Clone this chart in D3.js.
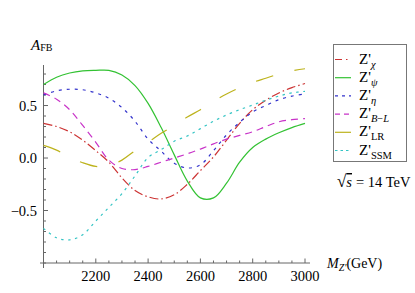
<!DOCTYPE html>
<html>
<head>
<meta charset="utf-8">
<script src="https://cdn.jsdelivr.net/npm/d3@7"></script>
<style>
  body { margin: 0; background: #fff; }
  svg { display: block; }
  text { font-family: "Liberation Serif", "Times New Roman", "DejaVu Serif", serif; }
</style>
</head>
<body>
<script>
// Z' forward-backward asymmetry vs mass, sqrt(s) = 14 TeV
var mass = [2000, 2050, 2100, 2150, 2200, 2250, 2300, 2350, 2400, 2450, 2500,
            2550, 2600, 2650, 2700, 2750, 2800, 2850, 2900, 2950, 3000];

var chi = [0.33, 0.30, 0.25, 0.17, 0.07, -0.04, -0.19, -0.31, -0.37, -0.39, -0.35,
           -0.25, -0.12, 0.01, 0.17, 0.33, 0.46, 0.55, 0.62, 0.67, 0.71];
var psi = [0.70, 0.77, 0.81, 0.83, 0.835, 0.835, 0.79, 0.69, 0.52, 0.29, 0.03,
           -0.22, -0.38, -0.38, -0.24, -0.04, 0.10, 0.18, 0.24, 0.29, 0.33];
var eta = [0.60, 0.64, 0.655, 0.65, 0.62, 0.57, 0.48, 0.35, 0.18, 0.065, -0.05,
           -0.095, -0.065, 0.07, 0.22, 0.34, 0.44, 0.50, 0.555, 0.59, 0.61];
var bl  = [0.62, 0.56, 0.46, 0.31, 0.15, -0.02, -0.10, -0.11, -0.08, -0.04, 0.0,
           0.04, 0.085, 0.135, 0.18, 0.215, 0.25, 0.30, 0.345, 0.365, 0.375];
var lr  = [0.12, 0.075, 0.01, -0.045, -0.08, -0.075, -0.02, 0.07, 0.15, 0.235, 0.31,
           0.39, 0.46, 0.54, 0.61, 0.67, 0.72, 0.76, 0.80, 0.83, 0.85];
var ssm = [-0.67, -0.76, -0.78, -0.73, -0.60, -0.47, -0.34, -0.17, 0.005, 0.08, 0.16,
           0.21, 0.28, 0.35, 0.41, 0.46, 0.505, 0.55, 0.59, 0.62, 0.635];

var xTicks = [2200, 2400, 2600, 2800, 3000];
var yTicks = [-0.5, 0.0, 0.5];

var series = [
  {name: "χ",   values: chi, color: "#cc3333", dash: "9,3,1.5,3"},
  {name: "ψ",   values: psi, color: "#33c233", dash: null},
  {name: "η",   values: eta, color: "#3333cc", dash: "3,5"},
  {name: "B−L", values: bl,  color: "#c833c8", dash: "7,5"},
  {name: "LR",  values: lr,  color: "#bdb31c", dash: "18,22"},
  {name: "SSM", values: ssm, color: "#33c4c4", dash: "2.5,4.5"}
];

var W = 415, H = 293;
var svg = d3.select("body").append("svg")
    .attr("width", W)
    .attr("height", H)
    .attr("font-family", "Liberation Serif, Times New Roman, serif");

var x = d3.scaleLinear().domain([2000, 3000]).range([43.5, 305]);
var y = d3.scaleLinear().domain([-1, 0.886]).range([263, 65]);

var axisColor = "#666";

// y axis
svg.append("line")
    .attr("x1", x(2000)).attr("x2", x(2000))
    .attr("y1", y(0.886)).attr("y2", 268)
    .attr("stroke", axisColor).attr("stroke-width", 1);

var yMinor = d3.range(-10, 9).map(function (d) { return d / 10; });
svg.selectAll(".ytick")
    .data(yMinor)
    .enter().append("line")
    .attr("x1", x(2000))
    .attr("x2", function (d) {
        return yTicks.indexOf(Math.round(d * 10) / 10) >= 0 ? x(2000) + 4.5 : x(2000) + 2.5;
    })
    .attr("y1", function (d) { return y(d); })
    .attr("y2", function (d) { return y(d); })
    .attr("stroke", axisColor).attr("stroke-width", 1);

svg.selectAll(".ylab")
    .data(yTicks)
    .enter().append("text")
    .attr("x", 37)
    .attr("y", function (d) { return y(d) + 5; })
    .attr("text-anchor", "end")
    .attr("font-size", 14.5)
    .text(function (d) { return d3.format(".1f")(d).replace("-", "−"); });

// x axis
svg.append("line")
    .attr("x1", 40).attr("x2", 310)
    .attr("y1", y(-1)).attr("y2", y(-1))
    .attr("stroke", axisColor).attr("stroke-width", 1);

var xMinor = d3.range(2050, 3001, 50);
svg.selectAll(".xtick")
    .data(xMinor)
    .enter().append("line")
    .attr("x1", function (d) { return x(d); })
    .attr("x2", function (d) { return x(d); })
    .attr("y1", y(-1))
    .attr("y2", function (d) { return d % 200 === 0 ? y(-1) - 4.5 : y(-1) - 2.5; })
    .attr("stroke", axisColor).attr("stroke-width", 1);

svg.selectAll(".xlab")
    .data(xTicks)
    .enter().append("text")
    .attr("x", function (d) { return x(d); })
    .attr("y", 281)
    .attr("text-anchor", "middle")
    .attr("font-size", 14.5)
    .text(function (d) { return d; });

// axis labels
var ya = svg.append("text").attr("x", 31).attr("y", 50).attr("font-size", 15);
ya.append("tspan").attr("font-style", "italic").text("A");
ya.append("tspan").attr("font-size", 10).attr("dy", 1).text("FB");

var xa = svg.append("text").attr("x", 327).attr("y", 268).attr("font-size", 14);
xa.append("tspan").attr("font-style", "italic").text("M");
xa.append("tspan").attr("font-size", 10).attr("dy", 3).attr("font-style", "italic").text("Z'");
xa.append("tspan").attr("dy", -3).text("(GeV)");

// curves
var line = d3.line()
    .x(function (d) { return x(d[0]); })
    .y(function (d) { return y(d[1]); })
    .curve(d3.curveCatmullRom.alpha(0.5));

series.forEach(function (s) {
    var pts = mass.map(function (m, i) { return [m, s.values[i]]; });
    svg.append("path")
        .datum(pts)
        .attr("d", line)
        .attr("fill", "none")
        .attr("stroke", s.color)
        .attr("stroke-width", 1.2)
        .attr("stroke-dasharray", s.dash);
});

// legend
svg.append("rect")
    .attr("x", 333.5).attr("y", 44.5)
    .attr("width", 73).attr("height", 117)
    .attr("fill", "#fff")
    .attr("stroke", "#777").attr("stroke-width", 1);

var legendDash = ["7,4,1.5,4", null, "3,4", "5,4", null, "2.5,3"];
series.forEach(function (s, i) {
    var ly = 59.5 + i * 18.2;
    svg.append("line")
        .attr("x1", 335).attr("x2", 351)
        .attr("y1", ly).attr("y2", ly)
        .attr("stroke", s.color)
        .attr("stroke-width", 1.2)
        .attr("stroke-dasharray", legendDash[i]);
    var t = svg.append("text")
        .attr("x", 359).attr("y", ly + 4)
        .attr("font-size", 15);
    t.append("tspan").text("Z'");
    var sub = t.append("tspan").attr("font-size", 10.5).attr("dy", 4).text(s.name);
    if (s.name.length === 1) sub.attr("font-style", "italic");
    if (s.name === "B−L") {
        sub.text(null);
        sub.append("tspan").attr("font-style", "italic").text("B");
        sub.append("tspan").text("−");
        sub.append("tspan").attr("font-style", "italic").text("L");
    }
});

// energy label
var en = svg.append("text").attr("x", 337).attr("y", 187).attr("font-size", 14.5);
en.append("tspan").attr("font-size", 17).text("√");
en.append("tspan").attr("font-style", "italic").attr("text-decoration", "overline").text("s");
en.append("tspan").attr("dx", 4).text("= 14 TeV");
</script>
</body>
</html>
